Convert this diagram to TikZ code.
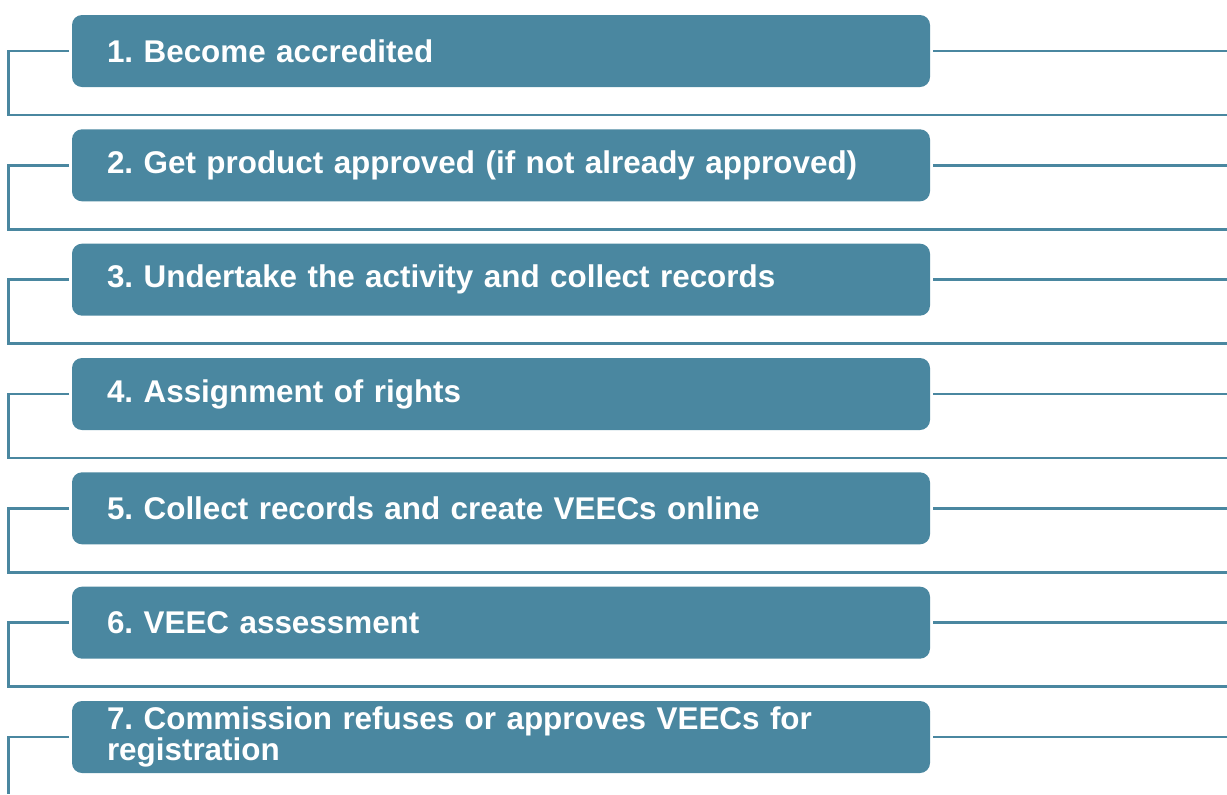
\documentclass[tikz,border=0pt]{standalone}
\usepackage{fontspec}
\setmainfont{Liberation Sans}
\usepackage{xcolor}
\definecolor{stepblue}{HTML}{4A87A0}
\frenchspacing

\begin{document}
\begin{tikzpicture}[x=0.5pt, y=-0.5pt,
    stepbox/.style={fill=stepblue, rounded corners=5pt, anchor=west,
      text=white, font=\bfseries\fontsize{15.7}{15.5}\selectfont,
      text width=394pt, align=left, inner xsep=17.5pt, inner ysep=0pt,
      minimum height=36pt, outer sep=1.5pt},
    link/.style={draw=stepblue, line width=1.2pt}]
  \useasboundingbox (0,0) rectangle (1227,794);
  \pgfmathsetmacro{\xl}{8.5}  % left rail
  \pgfmathsetmacro{\xr}{1227} % right edge

  % step boxes
  \node[stepbox] (s1) at (69,51) {1. Become accredited};
  \node[stepbox] (s2) at (69,165.33) {2. Get product approved (if not already approved)};
  \node[stepbox] (s3) at (69,279.67) {3. Undertake the activity and collect records};
  \node[stepbox] (s4) at (69,394) {4. Assignment of rights};
  \node[stepbox] (s5) at (69,508.33) {5. Collect records and create VEECs online};
  \node[stepbox] (s6) at (69,622.67) {6. VEEC assessment};
  \node[stepbox] (s7) at (69,737) {7. Commission refuses or approves VEECs for\\registration};

  % rails
  \coordinate (R1) at (\xr,51);
  \coordinate (R2) at (\xr,165.33);
  \coordinate (R3) at (\xr,279.67);
  \coordinate (R4) at (\xr,394);
  \coordinate (R5) at (\xr,508.33);
  \coordinate (R6) at (\xr,622.67);
  \coordinate (R7) at (\xr,737);
  \draw[link] (s1.east) -- (R1);
  \draw[link] (s2.east) -- (R2);
  \draw[link] (s3.east) -- (R3);
  \draw[link] (s4.east) -- (R4);
  \draw[link] (s5.east) -- (R5);
  \draw[link] (s6.east) -- (R6);
  \draw[link] (s7.east) -- (R7);

  % left brackets
  \draw[link] (s1.west) -- (\xl,51) -- (\xl,115) -- (\xr,115);
  \draw[link] (s2.west) -- (\xl,165.33) -- (\xl,229.33) -- (\xr,229.33);
  \draw[link] (s3.west) -- (\xl,279.67) -- (\xl,343.67) -- (\xr,343.67);
  \draw[link] (s4.west) -- (\xl,394) -- (\xl,458) -- (\xr,458);
  \draw[link] (s5.west) -- (\xl,508.33) -- (\xl,572.33) -- (\xr,572.33);
  \draw[link] (s6.west) -- (\xl,622.67) -- (\xl,686.67) -- (\xr,686.67);
  \draw[link] (s7.west) -- (\xl,737) -- (\xl,794);

\end{tikzpicture}
\end{document}
